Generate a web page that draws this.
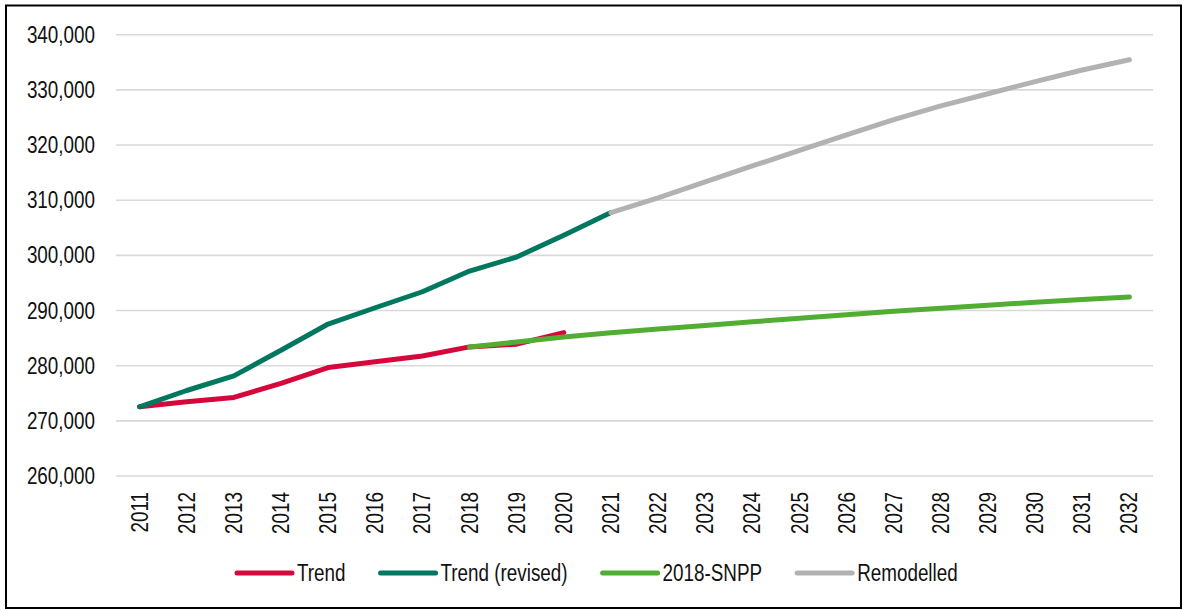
<!DOCTYPE html>
<html>
<head>
<meta charset="utf-8">
<script src="https://cdn.jsdelivr.net/npm/d3@7"></script>
<style>
  body { margin: 0; background: #fff; }
  text { font-family: "Liberation Sans Narrow", "Arial Narrow", "Liberation Sans", Arial, sans-serif; fill: #111; }
</style>
</head>
<body>
<div id="canvas"></div>
<script>
// chart data
const years = d3.range(2011, 2033);
const yTicks = [260000, 270000, 280000, 290000, 300000, 310000, 320000, 330000, 340000];

const trendYears = d3.range(2011, 2021);
const trend = [272550, 273450, 274250, 276800, 279650, 280700, 281750, 283400, 283900, 286000];

const revisedYears = d3.range(2011, 2022);
const revised = [272550, 275500, 278150, 282800, 287550, 290500, 293400, 297150, 299700, 303650, 307750];

const snppYears = d3.range(2018, 2033);
const snpp = [283400, 284300, 285200, 285950, 286650, 287300, 287950, 288600, 289250, 289850, 290400, 290950, 291500, 292000, 292450];

const remodYears = d3.range(2021, 2033);
const remod = [307750, 310400, 313300, 316200, 319050, 321850, 324600, 327100, 329300, 331500, 333600, 335450];

const seriesNames = ["Trend", "Trend (revised)", "2018-SNPP", "Remodelled"];
const seriesColors = ["#d6083b", "#00785f", "#52ae32", "#b2b2b2"];

const dims = { width: 1184, height: 610 };
const plot = { left: 116, right: 1153, top: 34.7, bottom: 476 };

const svg = d3
  .select("#canvas")
  .append("svg")
  .attr("width", dims.width)
  .attr("height", dims.height);

// narrow look: squeeze text horizontally unless a real narrow face is there
const probe = svg.append("text").style("font-size", "23px").text("340,000");
const probeW = probe.node().getComputedTextLength();
probe.remove();
const squeeze = probeW > 78 ? 0.82 : 1;

// outer frame
svg
  .append("rect")
  .attr("x", 6)
  .attr("y", 5.5)
  .attr("width", 1175)
  .attr("height", 602.5)
  .attr("fill", "none")
  .attr("stroke", "#000")
  .attr("stroke-width", 2);

const xScale = d3
  .scaleBand()
  .domain(years)
  .range([plot.left, plot.right]);

const yScale = d3
  .scaleLinear()
  .domain([260000, 340000])
  .range([plot.bottom, plot.top]);

const cx = d => xScale(d) + xScale.bandwidth() / 2;

// gridlines
svg
  .append("g")
  .selectAll("line")
  .data(yTicks)
  .enter()
  .append("line")
  .attr("x1", plot.left)
  .attr("x2", plot.right)
  .attr("y1", d => yScale(d))
  .attr("y2", d => yScale(d))
  .attr("stroke", "#d9d9d9")
  .attr("stroke-width", 1.6);

// y labels
const fmt = d3.format(",");
svg
  .append("g")
  .selectAll("text")
  .data(yTicks)
  .enter()
  .append("text")
  .attr("transform", d => `translate(95, ${yScale(d)}) scale(${squeeze}, 1)`)
  .attr("dy", "0.35em")
  .attr("text-anchor", "end")
  .style("font-size", "23px")
  .text(d => fmt(d));

// x labels (rotated)
svg
  .append("g")
  .selectAll("text")
  .data(years)
  .enter()
  .append("text")
  .attr("transform", d => `translate(${cx(d)}, 492) rotate(-90) scale(${squeeze}, 1)`)
  .attr("dy", "0.35em")
  .attr("text-anchor", "end")
  .style("font-size", "23px")
  .text(d => d);

// lines
const lineGen = d3
  .line()
  .x(d => cx(d.year))
  .y(d => yScale(d.value));

const allSeries = [
  { years: trendYears, values: trend },
  { years: revisedYears, values: revised },
  { years: snppYears, values: snpp },
  { years: remodYears, values: remod }
];

svg
  .append("g")
  .selectAll("path")
  .data(allSeries)
  .enter()
  .append("path")
  .attr("d", s => lineGen(s.years.map((y, i) => ({ year: y, value: s.values[i] }))))
  .attr("fill", "none")
  .attr("stroke", (s, i) => seriesColors[i])
  .attr("stroke-width", 5)
  .attr("stroke-linecap", "round")
  .attr("stroke-linejoin", "round");

// legend
const legendGroup = svg.append("g").attr("transform", "translate(0, 573)");
let lx = 237;
seriesNames.forEach((name, i) => {
  legendGroup
    .append("line")
    .attr("x1", lx)
    .attr("x2", lx + 55)
    .attr("stroke", seriesColors[i])
    .attr("stroke-width", 5)
    .attr("stroke-linecap", "round");
  const t = legendGroup
    .append("text")
    .attr("transform", `translate(${lx + 60}, 0) scale(${squeeze}, 1)`)
    .attr("dy", "0.35em")
    .style("font-size", "23px")
    .text(name);
  lx += 60 + t.node().getComputedTextLength() * squeeze + 35;
});
</script>
</body>
</html>
